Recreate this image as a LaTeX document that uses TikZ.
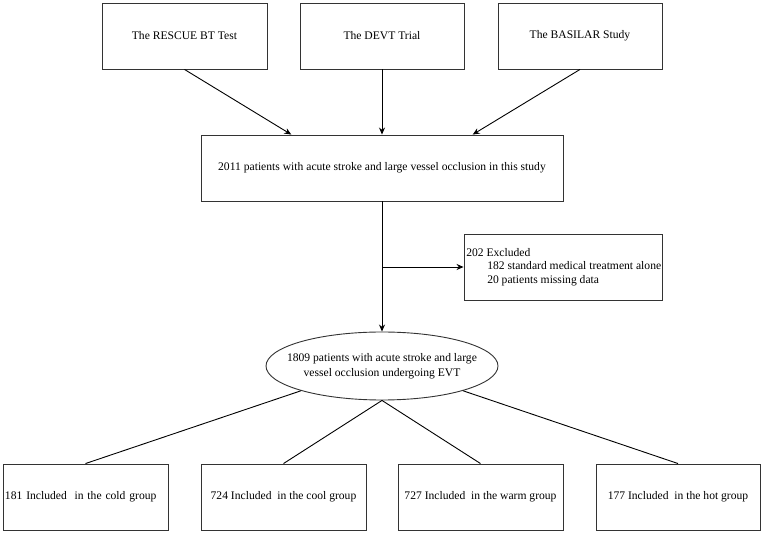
\documentclass[tikz,border=0pt]{standalone}
\usepackage{fontspec}
\setmainfont{Liberation Serif}
\usetikzlibrary{arrows.meta,shapes.geometric,calc}
\begin{document}
\begin{tikzpicture}[x=1pt,y=-1pt,
  font=\fontsize{11.6}{13.4}\selectfont,
  box/.style={draw=black!80,line width=0.9pt,minimum width=165pt,minimum height=66pt,inner sep=2pt,align=center},
  ell/.style={draw=black!80,line width=0.9pt,ellipse,minimum width=232pt,minimum height=68pt,inner sep=0pt},
  arr/.style={draw=black,line width=0.9pt,-{Stealth[length=7pt,width=6pt]}},
  ln/.style={draw=black,line width=0.9pt}]
\useasboundingbox (0,0) rectangle (764,534);
\fill[white] (0,0) rectangle (764,534);
% top boxes
\node[box,minimum width=165pt] (t1) at (184.5,36) {The RESCUE BT Test};
\node[box,minimum width=164pt] (t2) at (382,36) {The DEVT Trial};
\node[box,minimum width=164pt] (t3) at (580,36) {The BASILAR Study};
% middle
\node[box,minimum width=362pt] (mid) at (382,168) {2011 patients with acute stroke and large vessel occlusion in this study};
% excluded
\node[box,minimum width=198pt] (exc) at (563,267) {};
\node[anchor=west,align=left,inner sep=0pt] (exctext) at ($(exc.west)+(2.5,0)$) {202 Excluded\\\hspace*{21pt}182 standard medical treatment alone\\\hspace*{21pt}20 patients missing data};
% ellipse
\node[ell] (el) at (382,366) {};
\node[align=center,inner sep=0pt,font=\fontsize{11.6}{15}\selectfont] (eltext) at (el.center) {1809 patients with acute stroke and large\\vessel occlusion undergoing EVT};
% bottom boxes
\node[box,text width=161pt,align=left] (b1) at (85.5,497) {181 Included\ \ in the cold group};
\node[box] (b2) at (283.5,497) {724 Included\ \ in the cool group};
\node[box] (b3) at (480.5,497) {727 Included\ \ in the warm group};
\node[box,minimum width=164pt] (b4) at (678,497) {177 Included\ \ in the hot group};
% connectors
\draw[arr] (t1.south) -- ($(mid.north west)!0.25!(mid.north east)$);
\draw[arr] (t2.south) -- (mid.north);
\draw[arr] (t3.south) -- ($(mid.north west)!0.75!(mid.north east)$);
\draw[arr] (mid.south) -- (el.north);
\coordinate (br) at (mid.south |- exc.west);
\draw[arr] (br) -- (exc.west);
\draw[ln] (el.197) -- (b1.north);
\draw[ln] (el.south) -- (b2.north);
\draw[ln] (el.south) -- (b3.north);
\draw[ln] (el.343) -- (b4.north);
\end{tikzpicture}
\end{document}
